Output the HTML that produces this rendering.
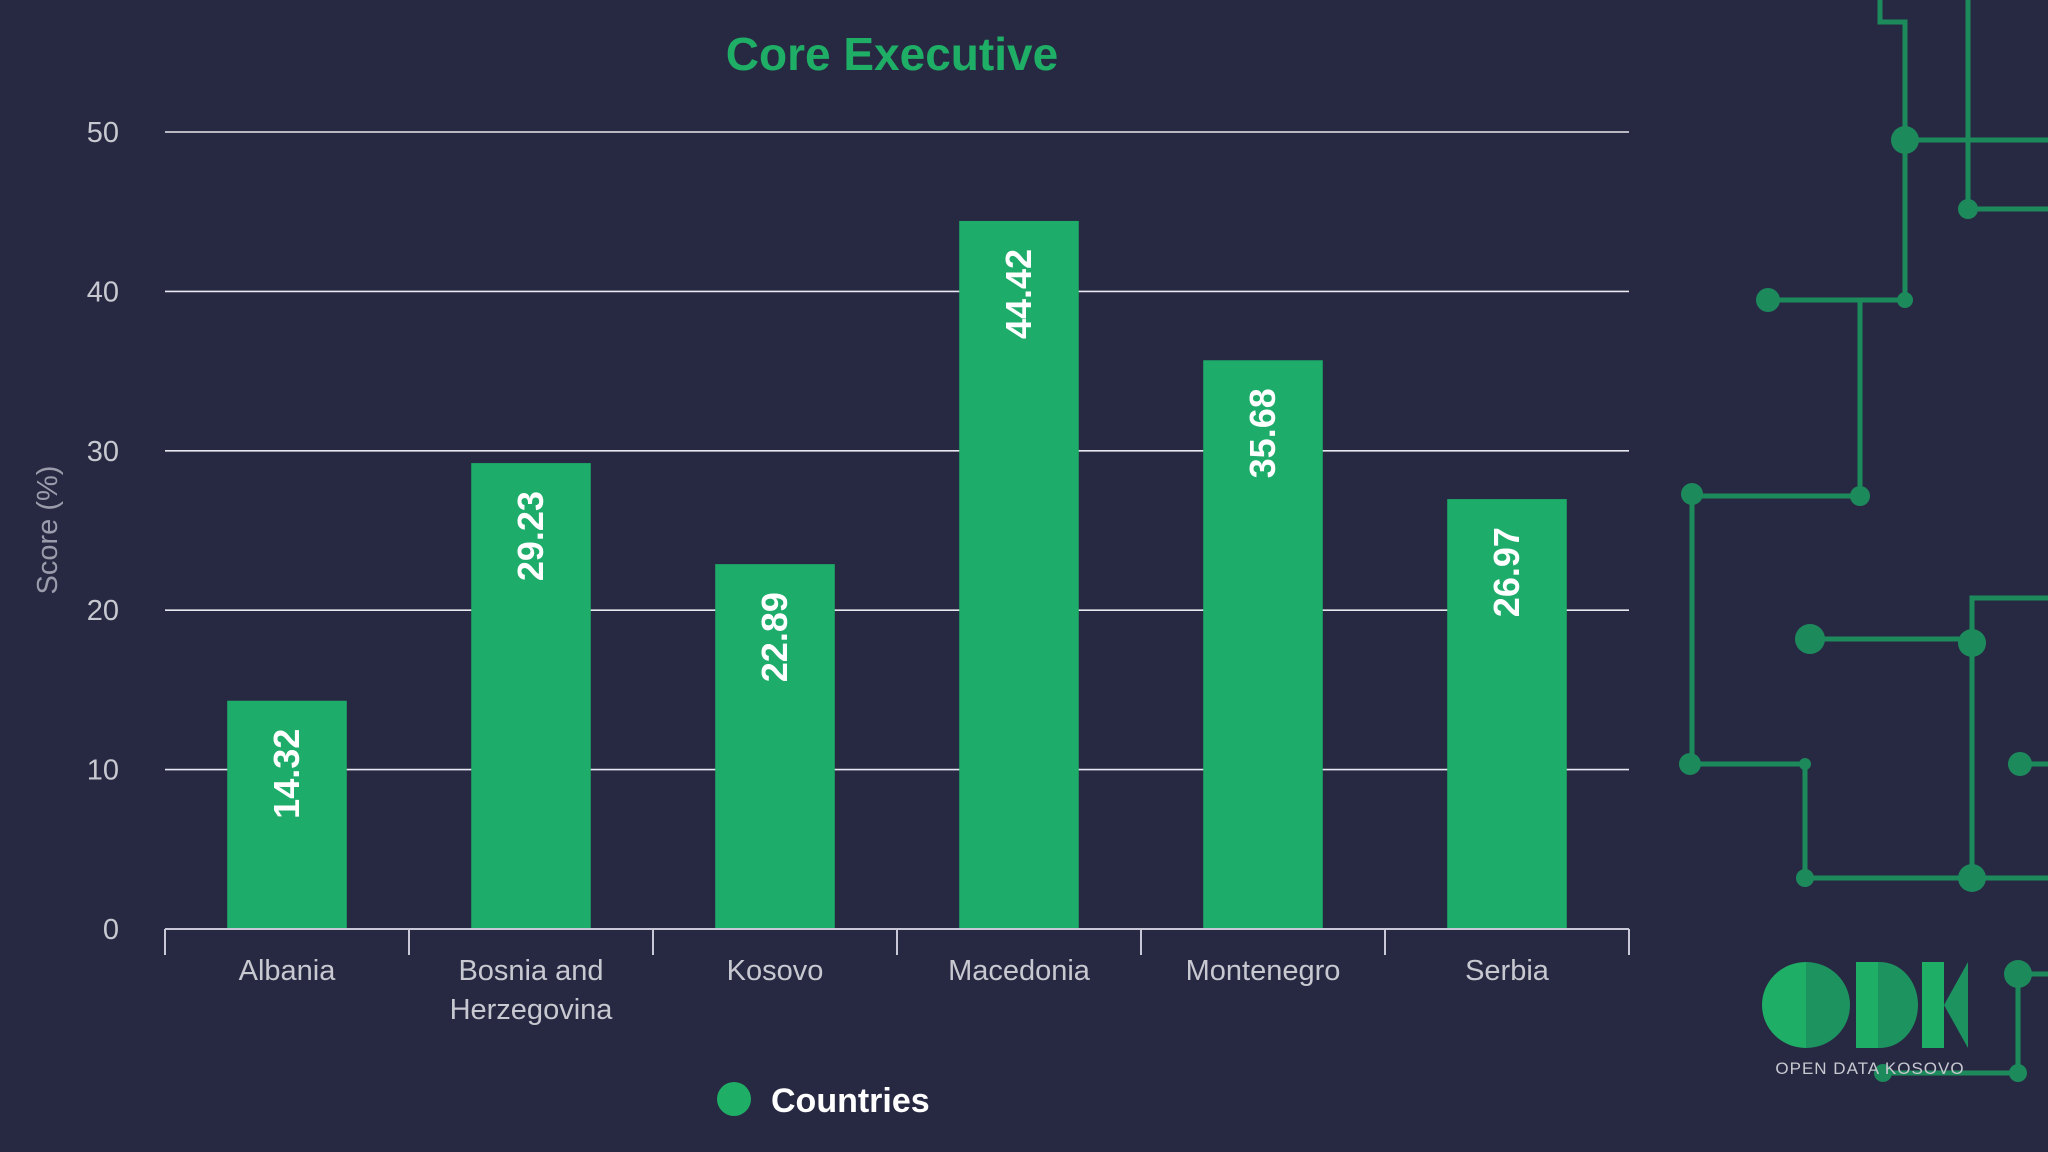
<!DOCTYPE html>
<html><head><meta charset="utf-8"><style>
html,body{margin:0;padding:0;background:#272943;}
svg{display:block;font-family:"Liberation Sans",sans-serif;}
</style></head><body>
<svg id="chart" width="2048" height="1152" viewBox="0 0 2048 1152">
<rect width="2048" height="1152" fill="#272943"/>
<g stroke="#1d8a5c" stroke-width="5" fill="none">
<path d="M1880 0 V22 H1905 V301"/><path d="M1905 140 H2048"/><path d="M1968 0 V209 H2048"/>
<path d="M1768 300 H1905"/><path d="M1860 300 V496 H1692 V764 H1805 V878 H2048"/>
<path d="M1810 639 H1972"/><path d="M1972 878 V598 H2048" /><path d="M2020 764 H2048"/>
<path d="M2018 974 H2048"/><path d="M2018 974 V1073 H1883"/>
</g>
<g fill="#1d8a5c">
<circle cx="1905" cy="140" r="14"/><circle cx="1968" cy="209" r="10"/><circle cx="1768" cy="300" r="12"/><circle cx="1905" cy="300" r="8"/>
<circle cx="1860" cy="496" r="10"/><circle cx="1692" cy="494" r="11"/><circle cx="1690" cy="764" r="11"/><circle cx="1805" cy="764" r="6"/>
<circle cx="1805" cy="878" r="9"/><circle cx="1972" cy="878" r="14"/><circle cx="1810" cy="639" r="15"/><circle cx="1972" cy="643" r="14"/>
<circle cx="2020" cy="764" r="12"/><circle cx="2018" cy="974" r="14"/><circle cx="2018" cy="1073" r="9"/><circle cx="1883" cy="1073" r="9"/>
</g>
<g>
<path d="M1806 962 A44 43 0 0 0 1806 1048 Z" fill="#1fae66"/>
<path d="M1806 962 A44 43 0 0 1 1806 1048 Z" fill="#1d9460"/>
<rect x="1856" y="962" width="22" height="86" fill="#1fae66"/>
<path d="M1878 962 H1880 A38 43 0 0 1 1880 1048 H1878 Z" fill="#1d9460"/>
<path d="M1922 962 H1944 V1048 H1922 Z" fill="#1fae66"/>
<path d="M1944 1005 L1968 962 V1048 Z" fill="#1d9460"/>
<text x="1870" y="1074" font-size="17" fill="#c8c8d0" text-anchor="middle" letter-spacing="1">OPEN DATA KOSOVO</text>
</g>
<text x="892" y="70" font-size="46" font-weight="bold" fill="#1fae66" text-anchor="middle">Core Executive</text>
<text transform="translate(57,530) rotate(-90)" font-size="29" fill="#9a9cac" text-anchor="middle">Score (%)</text>
<g id="grid"></g><g id="yticks"></g><g id="bars"></g><g id="xaxis"></g>
<g>
<circle cx="734" cy="1099" r="17" fill="#1fae66"/>
<text x="771" y="1112" font-size="34" font-weight="bold" fill="#ffffff">Countries</text>
</g>
</svg>
<script>
const categories = ["Albania", "Bosnia and|Herzegovina", "Kosovo", "Macedonia", "Montenegro", "Serbia"];
const values = [14.32, 29.23, 22.89, 44.42, 35.68, 26.97];
const yTicks = [0, 10, 20, 30, 40, 50];
const NS = "http://www.w3.org/2000/svg";
const X0 = 165, X1 = 1629, Y0 = 929, Y50 = 132;
const band = (X1 - X0) / categories.length;
function y(v){ return Y0 - (v / 50) * (Y0 - Y50); }
function xc(i){ return X0 + band * (i + 0.5); }
function mk(tag, attrs, parent){ const e = document.createElementNS(NS, tag); for (const k in attrs) e.setAttribute(k, attrs[k]); parent.appendChild(e); return e; }
const grid = document.getElementById('grid'), yt = document.getElementById('yticks'), bars = document.getElementById('bars'), xa = document.getElementById('xaxis');
yTicks.forEach(t => {
  if (t > 0) {
    const l = mk('line', {x1: X0, x2: X1, y1: y(t), y2: y(t), stroke: '#e8e8ee', 'stroke-width': 1.6}, grid);
    
    
  }
  const tx = mk('text', {x: 119, y: y(t) + 10, 'font-size': 29, fill: '#c8c8d0', 'text-anchor': 'end'}, yt);
  tx.textContent = t;
  
  
});
const bw = band * 0.49;
values.forEach((v, i) => {
  const r = mk('rect', {x: xc(i) - bw/2, y: y(v), width: bw, height: Y0 - y(v), fill: '#1dac69'}, bars);
  
  
  const t = mk('text', {transform: 'translate(' + (xc(i) + 12) + ',' + (y(v) + 28) + ') rotate(-90)', 'font-size': 36, 'font-weight': 'bold', fill: '#ffffff', 'text-anchor': 'end'}, bars);
  t.textContent = v.toFixed(2);
  
  
});
const ax = mk('line', {x1: X0, x2: X1, y1: Y0, y2: Y0, stroke: '#c8c8d8', 'stroke-width': 2}, xa);


for (let i = 0; i <= categories.length; i++) {
  const tk = mk('line', {x1: X0 + band*i, x2: X0 + band*i, y1: Y0, y2: Y0 + 26, stroke: '#c8c8d8', 'stroke-width': 2}, xa);
  
  
}
categories.forEach((c, i) => {
  c.split('|').forEach((line, j) => {
    const t = mk('text', {x: xc(i), y: 980 + j * 39, 'font-size': 29, fill: '#c8c8d0', 'text-anchor': 'middle'}, xa);
    t.textContent = line;
    
    
  });
});
</script>
</body></html>
